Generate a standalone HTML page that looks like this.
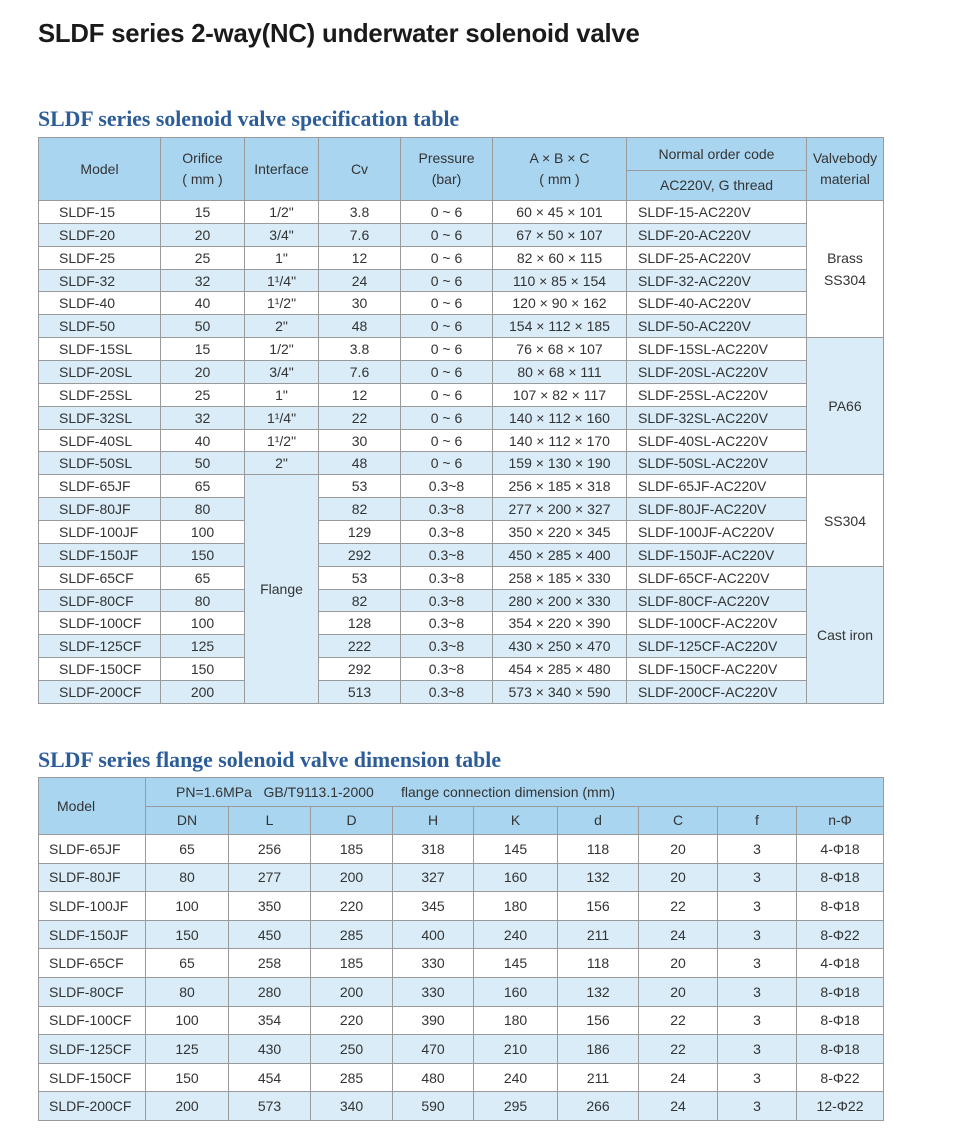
<!DOCTYPE html>
<html><head><meta charset="utf-8"><style>
body{margin:0;width:960px;height:1137px;background:#fff;position:relative;font-family:"Liberation Sans",sans-serif;color:#333;overflow:hidden}
h1{position:absolute;left:38px;top:20px;margin:0;font-size:25.7px;font-weight:bold;color:#1a1a1a;letter-spacing:-0.2px}
h2{position:absolute;left:38px;margin:0;font-family:"Liberation Serif",serif;font-weight:bold;font-size:21.8px;color:#2d5d98}
table{position:absolute;left:38px;border-collapse:collapse;table-layout:fixed;font-size:14px}
td{border:1px solid #9a9a9a;text-align:center;padding:0;white-space:nowrap;overflow:hidden}
.h td{background:#a9d5f0;line-height:21px}
.b{background:#d9ecf8}
.w{background:#fff}
.l{text-align:left;padding-left:20px}
.c{text-align:left;padding-left:11px}
#t1 tr.d td{height:21.86px}
#t2 tr.d td{height:27.6px}
</style></head><body>
<h1>SLDF series 2-way(NC) underwater solenoid valve</h1>
<h2 style="top:107px">SLDF series solenoid valve specification table</h2>
<table id="t1" style="top:137px;width:845px">
<colgroup><col style="width:122px"><col style="width:84px"><col style="width:74px"><col style="width:82px"><col style="width:92px"><col style="width:134px"><col style="width:180px"><col style="width:77px"></colgroup>
<tr class="h" style="height:33px"><td rowspan="2">Model</td><td rowspan="2">Orifice<br>( mm )</td><td rowspan="2">Interface</td><td rowspan="2">Cv</td><td rowspan="2">Pressure<br>(bar)</td><td rowspan="2">A × B × C<br>( mm )</td><td>Normal order code</td><td rowspan="2">Valvebody<br>material</td></tr>
<tr class="h" style="height:30px"><td>AC220V, G thread</td></tr>
<tr class="d w"><td class="l">SLDF-15</td><td>15</td><td>1/2"</td><td>3.8</td><td>0 ~ 6</td><td>60 × 45 × 101</td><td class="c">SLDF-15-AC220V</td><td rowspan="6" class="w" style="line-height:22px">Brass<br>SS304</td></tr>
<tr class="d b"><td class="l">SLDF-20</td><td>20</td><td>3/4"</td><td>7.6</td><td>0 ~ 6</td><td>67 × 50 × 107</td><td class="c">SLDF-20-AC220V</td></tr>
<tr class="d w"><td class="l">SLDF-25</td><td>25</td><td>1"</td><td>12</td><td>0 ~ 6</td><td>82 × 60 × 115</td><td class="c">SLDF-25-AC220V</td></tr>
<tr class="d b"><td class="l">SLDF-32</td><td>32</td><td>1¹/4"</td><td>24</td><td>0 ~ 6</td><td>110 × 85 × 154</td><td class="c">SLDF-32-AC220V</td></tr>
<tr class="d w"><td class="l">SLDF-40</td><td>40</td><td>1¹/2"</td><td>30</td><td>0 ~ 6</td><td>120 × 90 × 162</td><td class="c">SLDF-40-AC220V</td></tr>
<tr class="d b"><td class="l">SLDF-50</td><td>50</td><td>2"</td><td>48</td><td>0 ~ 6</td><td>154 × 112 × 185</td><td class="c">SLDF-50-AC220V</td></tr>
<tr class="d w"><td class="l">SLDF-15SL</td><td>15</td><td>1/2"</td><td>3.8</td><td>0 ~ 6</td><td>76 × 68 × 107</td><td class="c">SLDF-15SL-AC220V</td><td rowspan="6" class="b">PA66</td></tr>
<tr class="d b"><td class="l">SLDF-20SL</td><td>20</td><td>3/4"</td><td>7.6</td><td>0 ~ 6</td><td>80 × 68 × 111</td><td class="c">SLDF-20SL-AC220V</td></tr>
<tr class="d w"><td class="l">SLDF-25SL</td><td>25</td><td>1"</td><td>12</td><td>0 ~ 6</td><td>107 × 82 × 117</td><td class="c">SLDF-25SL-AC220V</td></tr>
<tr class="d b"><td class="l">SLDF-32SL</td><td>32</td><td>1¹/4"</td><td>22</td><td>0 ~ 6</td><td>140 × 112 × 160</td><td class="c">SLDF-32SL-AC220V</td></tr>
<tr class="d w"><td class="l">SLDF-40SL</td><td>40</td><td>1¹/2"</td><td>30</td><td>0 ~ 6</td><td>140 × 112 × 170</td><td class="c">SLDF-40SL-AC220V</td></tr>
<tr class="d b"><td class="l">SLDF-50SL</td><td>50</td><td>2"</td><td>48</td><td>0 ~ 6</td><td>159 × 130 × 190</td><td class="c">SLDF-50SL-AC220V</td></tr>
<tr class="d w"><td class="l">SLDF-65JF</td><td>65</td><td rowspan="10" class="b">Flange</td><td>53</td><td>0.3~8</td><td>256 × 185 × 318</td><td class="c">SLDF-65JF-AC220V</td><td rowspan="4" class="w">SS304</td></tr>
<tr class="d b"><td class="l">SLDF-80JF</td><td>80</td><td>82</td><td>0.3~8</td><td>277 × 200 × 327</td><td class="c">SLDF-80JF-AC220V</td></tr>
<tr class="d w"><td class="l">SLDF-100JF</td><td>100</td><td>129</td><td>0.3~8</td><td>350 × 220 × 345</td><td class="c">SLDF-100JF-AC220V</td></tr>
<tr class="d b"><td class="l">SLDF-150JF</td><td>150</td><td>292</td><td>0.3~8</td><td>450 × 285 × 400</td><td class="c">SLDF-150JF-AC220V</td></tr>
<tr class="d w"><td class="l">SLDF-65CF</td><td>65</td><td>53</td><td>0.3~8</td><td>258 × 185 × 330</td><td class="c">SLDF-65CF-AC220V</td><td rowspan="6" class="b">Cast iron</td></tr>
<tr class="d b"><td class="l">SLDF-80CF</td><td>80</td><td>82</td><td>0.3~8</td><td>280 × 200 × 330</td><td class="c">SLDF-80CF-AC220V</td></tr>
<tr class="d w"><td class="l">SLDF-100CF</td><td>100</td><td>128</td><td>0.3~8</td><td>354 × 220 × 390</td><td class="c">SLDF-100CF-AC220V</td></tr>
<tr class="d b"><td class="l">SLDF-125CF</td><td>125</td><td>222</td><td>0.3~8</td><td>430 × 250 × 470</td><td class="c">SLDF-125CF-AC220V</td></tr>
<tr class="d w"><td class="l">SLDF-150CF</td><td>150</td><td>292</td><td>0.3~8</td><td>454 × 285 × 480</td><td class="c">SLDF-150CF-AC220V</td></tr>
<tr class="d b"><td class="l">SLDF-200CF</td><td>200</td><td>513</td><td>0.3~8</td><td>573 × 340 × 590</td><td class="c">SLDF-200CF-AC220V</td></tr>
</table>

<h2 style="top:748px">SLDF series flange solenoid valve dimension table</h2>
<table id="t2" style="top:777px;width:845px">
<colgroup><col style="width:107px"><col style="width:83px"><col style="width:82px"><col style="width:82px"><col style="width:81px"><col style="width:84px"><col style="width:81px"><col style="width:79px"><col style="width:79px"><col style="width:87px"></colgroup>
<tr class="h" style="height:29px"><td rowspan="2" style="text-align:left;padding-left:18px">Model</td><td colspan="9" style="text-align:left;padding-left:30px">PN=1.6MPa&nbsp;&nbsp; GB/T9113.1-2000 &nbsp; &nbsp; &nbsp; flange connection dimension (mm)</td></tr>
<tr class="h" style="height:28px"><td>DN</td><td>L</td><td>D</td><td>H</td><td>K</td><td>d</td><td>C</td><td>f</td><td>n-Φ</td></tr>
<tr class="d w"><td class="l" style="padding-left:10px">SLDF-65JF</td><td>65</td><td>256</td><td>185</td><td>318</td><td>145</td><td>118</td><td>20</td><td>3</td><td>4-Φ18</td></tr>
<tr class="d b"><td class="l" style="padding-left:10px">SLDF-80JF</td><td>80</td><td>277</td><td>200</td><td>327</td><td>160</td><td>132</td><td>20</td><td>3</td><td>8-Φ18</td></tr>
<tr class="d w"><td class="l" style="padding-left:10px">SLDF-100JF</td><td>100</td><td>350</td><td>220</td><td>345</td><td>180</td><td>156</td><td>22</td><td>3</td><td>8-Φ18</td></tr>
<tr class="d b"><td class="l" style="padding-left:10px">SLDF-150JF</td><td>150</td><td>450</td><td>285</td><td>400</td><td>240</td><td>211</td><td>24</td><td>3</td><td>8-Φ22</td></tr>
<tr class="d w"><td class="l" style="padding-left:10px">SLDF-65CF</td><td>65</td><td>258</td><td>185</td><td>330</td><td>145</td><td>118</td><td>20</td><td>3</td><td>4-Φ18</td></tr>
<tr class="d b"><td class="l" style="padding-left:10px">SLDF-80CF</td><td>80</td><td>280</td><td>200</td><td>330</td><td>160</td><td>132</td><td>20</td><td>3</td><td>8-Φ18</td></tr>
<tr class="d w"><td class="l" style="padding-left:10px">SLDF-100CF</td><td>100</td><td>354</td><td>220</td><td>390</td><td>180</td><td>156</td><td>22</td><td>3</td><td>8-Φ18</td></tr>
<tr class="d b"><td class="l" style="padding-left:10px">SLDF-125CF</td><td>125</td><td>430</td><td>250</td><td>470</td><td>210</td><td>186</td><td>22</td><td>3</td><td>8-Φ18</td></tr>
<tr class="d w"><td class="l" style="padding-left:10px">SLDF-150CF</td><td>150</td><td>454</td><td>285</td><td>480</td><td>240</td><td>211</td><td>24</td><td>3</td><td>8-Φ22</td></tr>
<tr class="d b"><td class="l" style="padding-left:10px">SLDF-200CF</td><td>200</td><td>573</td><td>340</td><td>590</td><td>295</td><td>266</td><td>24</td><td>3</td><td>12-Φ22</td></tr>
</table>
</body></html>
